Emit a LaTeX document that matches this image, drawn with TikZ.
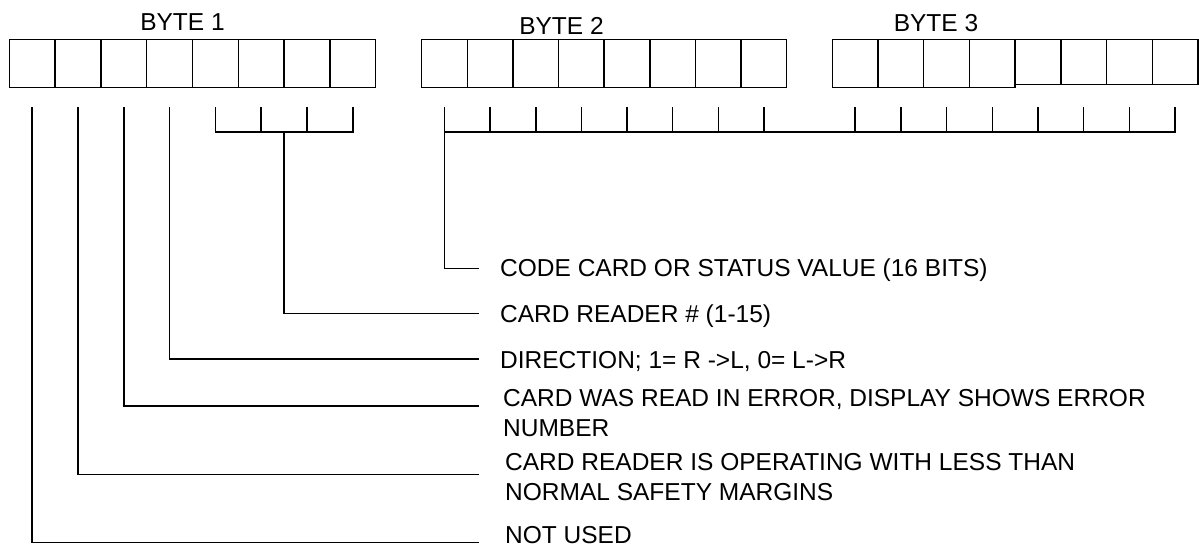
\documentclass[tikz,border=0pt]{standalone}
\usepackage{fontspec}
\setmainfont{Liberation Sans}
\begin{document}
\begin{tikzpicture}[x=1pt,y=-1pt,
  conn/.style={line width=1.5pt,draw=black},
  cell/.style={draw,line width=1.5pt,minimum height=48pt,inner sep=0pt,outer sep=0pt},
  lbl/.style={font=\fontsize{24.5}{29.5}\selectfont,inner sep=0pt,anchor=base west,align=left},
  blbl/.style={font=\fontsize{24.5}{29.5}\selectfont,inner sep=0pt,anchor=base}]
\path[use as bounding box,fill=white] (0,0) rectangle (1199,546);
% byte 1
\foreach \i in {1,...,8}{
  \node[cell,minimum width=45.8pt] (b1c\i) at ({9.3+45.8*(\i-0.5)},63.3) {};
}
% byte 2
\foreach \i in {1,...,8}{
  \node[cell,minimum width=45.625pt] (b2c\i) at ({421.7+45.625*(\i-0.5)},63.3) {};
}
% byte 3
\foreach \i in {1,...,4}{
  \node[cell,minimum width=45.71pt] (b3c\i) at ({832.3+45.71*(\i-0.5)},63.3) {};
}
\foreach \i in {5,...,8}{
  \node[cell,minimum width=45.71pt,minimum height=45pt] (b3c\i) at ({832.3+45.71*(\i-0.5)},61.8) {};
}
% labels
\node[blbl] (l1) at (182.5,30.7) {BYTE 1};
\node[blbl] (l2) at (561.5,34.3) {BYTE 2};
\node[blbl] (l3) at (936,31) {BYTE 3};
% reference coordinates
\coordinate (tk) at (0,107);
\coordinate (bar) at (0,132);
\coordinate (eCC) at (479,268.3);
\coordinate (eCR) at (479,313.5);
\coordinate (eDI) at (479,359);
\coordinate (eER) at (479,406);
\coordinate (eSM) at (479,474.5);
\coordinate (eNU) at (479,542.5);
% texts
\node[lbl] (tCC) at (500,276) {CODE CARD OR STATUS VALUE (16 BITS)};
\node[lbl] (tCR) at (500,322.5) {CARD READER \# (1-15)};
\node[lbl] (tDI) at (500,368.5) {DIRECTION; 1= R ->L, 0= L->R};
\node[lbl] (tER) at (503,436) {CARD WAS READ IN ERROR, DISPLAY SHOWS ERROR\\NUMBER};
\node[lbl] (tSM) at (505,500) {CARD READER IS OPERATING WITH LESS THAN\\NORMAL SAFETY MARGINS};
\node[lbl,text depth=0pt] (tNU) at (505,543) {NOT USED};
% single-bit connectors
\draw[conn] (b1c1 |- tk) |- (eNU);
\draw[conn] (b1c2 |- tk) |- (eSM);
\draw[conn] (b1c3 |- tk) |- (eER);
\draw[conn] (b1c4 |- tk) |- (eDI);
% card reader bracket
\draw[conn] (b1c5 |- tk) |- (b1c8 |- bar) -- (b1c8 |- tk);
\foreach \i in {6,7}{ \draw[conn] (b1c\i |- tk) -- (b1c\i |- bar); }
\draw[conn] (b1c6.east |- bar) |- (eCR);
% code card bracket
\draw[conn] (b2c1 |- tk) |- (b3c8 |- bar) -- (b3c8 |- tk);
\foreach \i in {2,...,8}{ \draw[conn] (b2c\i |- tk) -- (b2c\i |- bar); }
\foreach \i in {1,...,7}{ \draw[conn] (b3c\i |- tk) -- (b3c\i |- bar); }
\draw[conn] (b2c1 |- bar) |- (eCC);
\end{tikzpicture}
\end{document}
